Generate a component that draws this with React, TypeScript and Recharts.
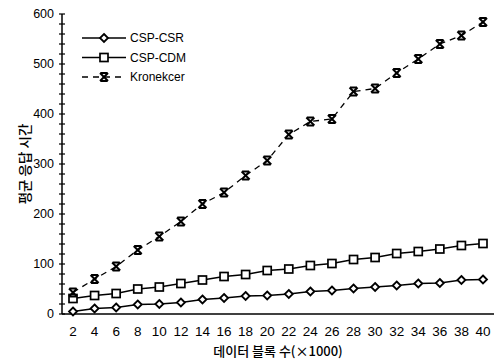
import React from 'react';
import { LineChart, Line, XAxis, YAxis, Legend } from 'recharts';

const blocks = ['2','4','6','8','10','12','14','16','18','20','22','24','26','28','30','32','34','36','38','40'];
const cspCsr = [5, 11, 13, 19, 20, 23, 29, 32, 36, 37, 40, 45, 47, 51, 54, 57, 61, 62, 68, 69];
const cspCdm = [31, 37, 41, 50, 54, 61, 68, 75, 79, 87, 90, 97, 101, 109, 113, 121, 125, 130, 137, 141];
const kronekcer = [43, 70, 95, 128, 155, 185, 220, 243, 277, 307, 359, 385, 390, 445, 451, 482, 510, 540, 557, 584];
const yTicks = Array.from({ length: 31 }, (_, i) => i * 20);
const seriesNames = ['CSP-CSR', 'CSP-CDM', 'Kronekcer'];

const data = blocks.map((b, i) => ({ block: b, csr: cspCsr[i], cdm: cspCdm[i], kron: kronekcer[i] }));

const FONT = '"Liberation Sans", Arial, "Noto Sans CJK KR", sans-serif';
const KFONT = '"Noto Sans CJK KR", "Liberation Sans", sans-serif';

const Diamond = (cx: number, cy: number, key?: any) => (
  <polygon key={key} points={`${cx},${cy - 4} ${cx + 4},${cy} ${cx},${cy + 4} ${cx - 4},${cy}`} fill="#fff" stroke="#000" strokeWidth={1.8} />
);
const Square = (cx: number, cy: number, key?: any) => (
  <rect key={key} x={cx - 4} y={cy - 4} width={8} height={8} fill="#fff" stroke="#000" strokeWidth={1.7} />
);
const Star = (cx: number, cy: number, key?: any) => (
  <g key={key} stroke="#000" strokeWidth={2} fill="none">
    <line x1={cx - 4} y1={cy - 4} x2={cx + 4} y2={cy + 4} />
    <line x1={cx + 4} y1={cy - 4} x2={cx - 4} y2={cy + 4} />
    <line x1={cx - 3.5} y1={cy - 4} x2={cx + 3.5} y2={cy - 4} />
    <line x1={cx - 3.5} y1={cy + 4} x2={cx + 3.5} y2={cy + 4} />
  </g>
);

const dotFn = (shape: (cx: number, cy: number, key?: any) => React.ReactElement) => (props: any) =>
  shape(props.cx, props.cy, `${props.dataKey}-${props.index}`);

const YTick = (props: any) => {
  const { x, y, payload } = props;
  const major = payload.value % 100 === 0;
  return (
    <g>
      <line x1={x - 3} x2={x + 3} y1={y} y2={y} stroke="#000" strokeWidth={1.2} />
      {major && (
        <text x={x - 8} y={y} textAnchor="end" dominantBaseline="central" fontSize={12.5} fontFamily={FONT} fill="#000">
          {payload.value}
        </text>
      )}
    </g>
  );
};

const XTick = (props: any) => {
  const { x, y, payload } = props;
  return (
    <text x={x} y={y + 22} textAnchor="middle" fontSize={13.5} fontFamily={FONT} fill="#000">
      {payload.value}
    </text>
  );
};

const LegendContent = () => {
  const rows = [
    { name: seriesNames[0], shape: Diamond, dash: undefined },
    { name: seriesNames[1], shape: Square, dash: undefined },
    { name: seriesNames[2], shape: Star, dash: '6 5' },
  ];
  return (
    <svg width={130} height={60} style={{ display: 'block' }}>
      {rows.map((r, i) => {
        const cy = 10 + i * 19.5;
        return (
          <g key={r.name}>
            <line x1={2} x2={46} y1={cy} y2={cy} stroke="#000" strokeWidth={1.3} strokeDasharray={r.dash} />
            {r.shape(24, cy)}
            <text x={50} y={cy} dominantBaseline="central" fontSize={12} fontFamily={FONT} fill="#000">
              {r.name}
            </text>
          </g>
        );
      })}
    </svg>
  );
};

export default function App() {
  return (
    <div style={{ position: 'absolute', left: 0, top: 0, width: 494, height: 360, background: '#fff' }}>
      <LineChart width={494} height={360} data={data} margin={{ top: 14, right: 0, left: 0, bottom: 0 }}>
        <XAxis
          dataKey="block"
          height={46}
          padding={{ left: 11, right: 11 }}
          tickLine={false}
          tickSize={0}
          tickMargin={0}
          interval={0}
          axisLine={{ stroke: '#000', strokeWidth: 1.5 }}
          tick={<XTick />}
          label={{
            content: (p: any) => {
              const vb = p.viewBox;
              return (
                <text x={vb.x + vb.width / 2} y={350.5} textAnchor="middle" dominantBaseline="central" fontSize={13} fontFamily={KFONT} fontWeight={500} fill="#000">
                  데이터 블록 수(×1000)
                </text>
              );
            },
          }}
        />
        <YAxis
          width={62}
          domain={[0, 600]}
          ticks={yTicks}
          interval={0}
          tickLine={false}
          tickSize={0}
          tickMargin={0}
          axisLine={{ stroke: '#000', strokeWidth: 1.5 }}
          tick={<YTick />}
          label={{
            content: () => {
              const cx = 24;
              const cy = 164;
              return (
                <text x={cx} y={cy} transform={`rotate(-90 ${cx} ${cy})`} textAnchor="middle" dominantBaseline="central" fontSize={13.5} fontFamily={KFONT} fontWeight={500} fill="#000">
                  평균 응답 시간
                </text>
              );
            },
          }}
        />
        <Legend
          layout="horizontal"
          verticalAlign="middle"
          align="center"
          wrapperStyle={{ position: 'absolute', left: 80, top: 28, width: 130, height: 60 }}
          content={<LegendContent />}
        />
        <Line name={seriesNames[0]} dataKey="csr" stroke="#000" strokeWidth={1.3} dot={dotFn(Diamond)} activeDot={false} isAnimationActive={false} />
        <Line name={seriesNames[1]} dataKey="cdm" stroke="#000" strokeWidth={1.3} dot={dotFn(Square)} activeDot={false} isAnimationActive={false} />
        <Line name={seriesNames[2]} dataKey="kron" stroke="#000" strokeWidth={1.3} strokeDasharray="6 5" dot={dotFn(Star)} activeDot={false} isAnimationActive={false} />
      </LineChart>
    </div>
  );
}
